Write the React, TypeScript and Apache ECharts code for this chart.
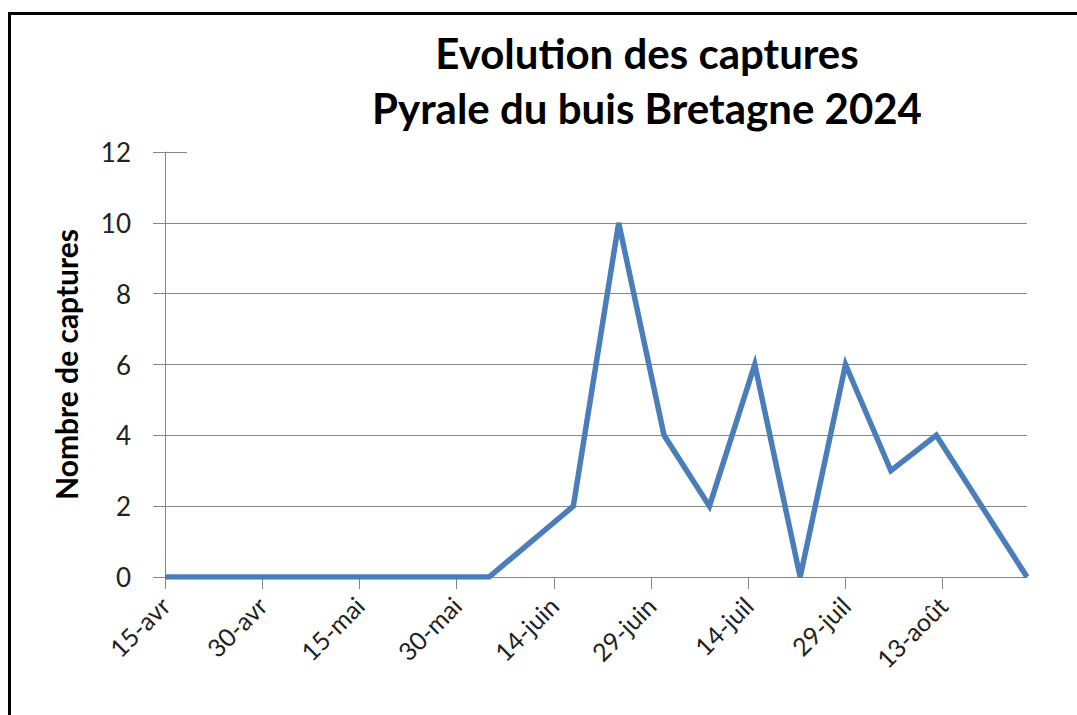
import React, { useEffect, useRef } from "react";
import * as echarts from "echarts";

// Data
const sampleDates = [
  "2024-04-15", "2024-06-04", "2024-06-17", "2024-06-24", "2024-07-01", "2024-07-08",
  "2024-07-15", "2024-07-22", "2024-07-29", "2024-08-05", "2024-08-12", "2024-08-26",
];
const captures = [0, 0, 2, 10, 4, 2, 6, 0, 6, 3, 4, 0];
const tickDates = [
  "2024-04-15", "2024-04-30", "2024-05-15", "2024-05-30", "2024-06-14",
  "2024-06-29", "2024-07-14", "2024-07-29", "2024-08-13",
];
const axisStart = "2024-04-15";
const axisEnd = "2024-08-26";
const yTicks = [0, 2, 4, 6, 8, 10, 12];
const monthNames = ["janv", "févr", "mars", "avr", "mai", "juin", "juil", "août", "sept", "oct", "nov", "déc"];
const titleLines = ["Evolution des captures", "Pyrale du buis Bretagne 2024"];
const yAxisTitle = "Nombre de captures";

const DAY = 86400000;
const t0 = Date.parse(axisStart);
const toDay = (d: string) => Math.round((Date.parse(d) - t0) / DAY);
const fmt = (v: number) => {
  const d = new Date(t0 + v * DAY);
  return `${d.getUTCDate()}-${monthNames[d.getUTCMonth()]}`;
};

export default function App() {
  const ref = useRef<HTMLDivElement>(null);
  useEffect(() => {
    if (!ref.current) return;
    const chart = echarts.init(ref.current, null, { renderer: "svg" });
    const font = "Lato";
    const tickDays = tickDates.map(toDay);
    chart.setOption({
      animation: false,
      backgroundColor: "#ffffff",
      textStyle: { fontFamily: font },
      graphic: [
        {
          type: "rect",
          shape: { x: 9.5, y: 13.5, width: 1200, height: 900 },
          style: { fill: "none", stroke: "#000", lineWidth: 3 },
          silent: true,
        },
      ],
      title: {
        text: titleLines.join("\n"),
        left: 642,
        top: 20,
        textAlign: "center",
        textStyle: {
          fontFamily: font,
          fontSize: 42,
          fontWeight: "bold",
          color: "#000",
          lineHeight: 55,
        },
      },
      grid: { left: 165, right: 50, top: 152, bottom: 138, containLabel: false },
      xAxis: {
        type: "value",
        min: 0,
        max: toDay(axisEnd),
        interval: 15,
        axisLine: { show: true, onZero: false, lineStyle: { color: "#868686", width: 1 } },
        axisTick: { show: true, length: 12, customValues: tickDays, lineStyle: { color: "#868686" } },
        axisLabel: {
          customValues: tickDays,
          rotate: 45,
          margin: 24,
          fontSize: 25,
          color: "#222",
          fontFamily: font,
          formatter: (v: number) => fmt(v),
        },
        splitLine: { show: false },
      },
      yAxis: {
        type: "value",
        min: yTicks[0],
        max: yTicks[yTicks.length - 1],
        interval: 2,
        name: yAxisTitle,
        nameLocation: "middle",
        nameGap: 84,
        nameTextStyle: { fontFamily: font, fontSize: 30, fontWeight: "bold", color: "#000" },
        axisLine: { show: true, lineStyle: { color: "#868686", width: 1 } },
        axisTick: { show: true, length: 12, lineStyle: { color: "#868686" } },
        axisLabel: { fontSize: 26, color: "#222", margin: 34, fontFamily: font },
        splitLine: { show: true, showMaxLine: false, lineStyle: { color: "#868686", width: 1 } },
      },
      series: [
        {
          type: "line",
          data: sampleDates.map((d, i) => [toDay(d), captures[i]]),
          symbol: "none",
          lineStyle: { color: "#4A7EBB", width: 5.5, join: "miter" },
          z: 3,
          markLine: {
            silent: true,
            symbol: "none",
            label: { show: false },
            lineStyle: { color: "#868686", width: 1, type: "solid" },
            data: [[{ coord: [0, 12] }, { coord: [3.4, 12] }]],
          },
        },
      ],
    });
    return () => chart.dispose();
  }, []);
  return (
    <div
      ref={ref}
      style={{ position: "absolute", left: 0, top: 0, width: 1077, height: 715 }}
    />
  );
}
